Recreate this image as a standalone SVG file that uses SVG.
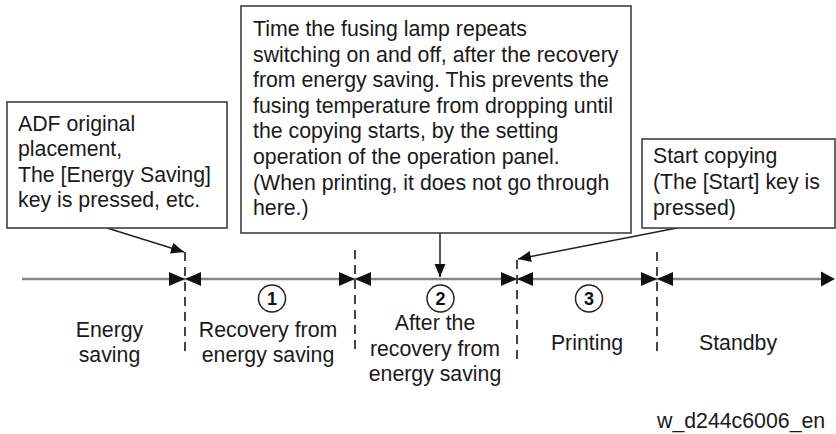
<svg xmlns="http://www.w3.org/2000/svg" width="836" height="434" viewBox="0 0 836 434">
<style>
text{font-family:"Liberation Sans",Arial,sans-serif;font-size:21.3px;fill:#1a1a1a}
.c{text-anchor:middle}
.box{fill:#fff;stroke:#404040;stroke-width:1.6}
.tl{stroke:#858585;stroke-width:2.6;fill:none}
.dash{stroke:#444;stroke-width:2;stroke-dasharray:9 6;fill:none}
.con{stroke:#222;stroke-width:1.5;fill:none}
.ah{fill:#111}
.num{fill:#fff;stroke:#222;stroke-width:1.5}
.nt{font-weight:bold;font-size:18px;text-anchor:middle;fill:#111}
</style>
<defs>
<marker id="arr" markerUnits="userSpaceOnUse" markerWidth="14" markerHeight="12" refX="13" refY="5.5" orient="auto">
<path d="M0,0 L13,5.5 L0,11 z" fill="#111"/>
</marker>
</defs>

<g id="timeline">
<line class="tl" x1="22" y1="279" x2="822" y2="279"/>
<path class="ah" d="M821,271.5 L835,279 L821,286.5 z"/>
</g>

<g id="boundaries">
<line class="dash" x1="185" y1="252" x2="185" y2="355"/>
<line class="dash" x1="355" y1="250" x2="355" y2="353"/>
<line class="dash" x1="517" y1="260" x2="517" y2="362"/>
<line class="dash" x1="657" y1="252" x2="657" y2="355"/>
<path class="ah" d="M169,272 L185,279 L169,286 z M201,272 L185,279 L201,286 z"/>
<path class="ah" d="M339,272 L355,279 L339,286 z M371,272 L355,279 L371,286 z"/>
<path class="ah" d="M501,272 L517,279 L501,286 z M533,272 L517,279 L533,286 z"/>
<path class="ah" d="M641,272 L657,279 L641,286 z M673,272 L657,279 L673,286 z"/>
</g>

<g id="connectors">
<line class="con" x1="107" y1="228" x2="184" y2="252" marker-end="url(#arr)"/>
<line class="con" x1="440" y1="233" x2="440" y2="277" marker-end="url(#arr)"/>
<line class="con" x1="677" y1="228" x2="518" y2="259" marker-end="url(#arr)"/>
</g>

<g id="callout-adf">
<rect class="box" x="7" y="102" width="220" height="126"/>
<text x="18" y="130.5">ADF original</text>
<text x="18" y="156">placement,</text>
<text x="18" y="181.5">The [Energy Saving]</text>
<text x="18" y="207">key is pressed, etc.</text>
</g>

<g id="callout-fusing">
<rect class="box" x="241" y="6" width="390" height="227"/>
<text x="253" y="36">Time the fusing lamp repeats</text>
<text x="253" y="61.6">switching on and off, after the recovery</text>
<text x="253" y="87.2">from energy saving. This prevents the</text>
<text x="253" y="112.8">fusing temperature from dropping until</text>
<text x="253" y="138.4">the copying starts, by the setting</text>
<text x="253" y="164">operation of the operation panel.</text>
<text x="253" y="189.6">(When printing, it does not go through</text>
<text x="253" y="215.2">here.)</text>
</g>

<g id="callout-start">
<rect class="box" x="642" y="139" width="193" height="89"/>
<text x="653" y="163">Start copying</text>
<text x="653" y="189">(The [Start] key is</text>
<text x="653" y="215">pressed)</text>
</g>

<g id="phase-energy-saving">
<text class="c" x="109.5" y="337">Energy</text>
<text class="c" x="109.5" y="362">saving</text>
</g>

<g id="phase-1">
<circle class="num" cx="272" cy="298.5" r="13.5"/>
<text class="nt" x="272" y="305">1</text>
<text class="c" x="268" y="337">Recovery from</text>
<text class="c" x="268" y="362">energy saving</text>
</g>

<g id="phase-2">
<circle class="num" cx="440.5" cy="298.5" r="13.5"/>
<text class="nt" x="440.5" y="305">2</text>
<text class="c" x="435" y="330">After the</text>
<text class="c" x="435" y="355.5">recovery from</text>
<text class="c" x="435" y="381">energy saving</text>
</g>

<g id="phase-3">
<circle class="num" cx="589" cy="298.5" r="13.5"/>
<text class="nt" x="589" y="305">3</text>
<text class="c" x="587" y="350">Printing</text>
</g>

<g id="phase-standby">
<text class="c" x="738" y="350">Standby</text>
</g>

<text x="657" y="428" style="font-size:21.3px">w_d244c6006_en</text>
</svg>
